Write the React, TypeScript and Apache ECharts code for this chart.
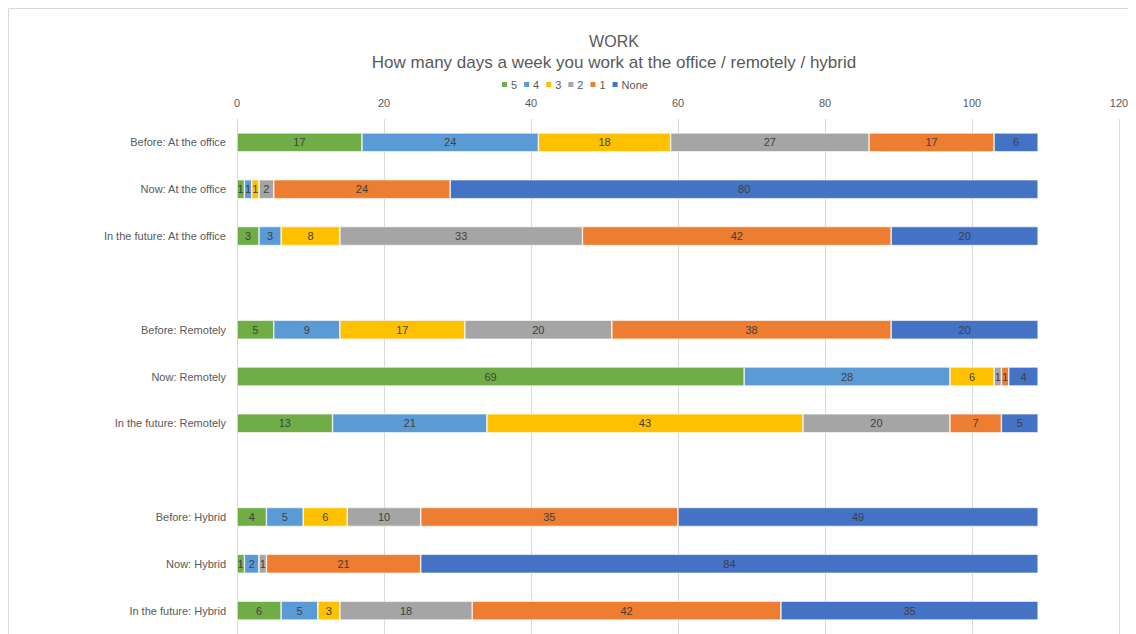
import React, { useEffect, useRef } from "react";
import * as echarts from "echarts";

const categories = [
  "Before: At the office",
  "Now: At the office",
  "In the future: At the office",
  "",
  "Before: Remotely",
  "Now: Remotely",
  "In the future: Remotely",
  " ",
  "Before: Hybrid",
  "Now: Hybrid",
  "In the future: Hybrid",
];

const seriesNames = ["5", "4", "3", "2", "1", "None"];
const seriesColors = ["#70AD47", "#5B9BD5", "#FFC000", "#A5A5A5", "#ED7D31", "#4472C4"];

const days5 = [17, 1, 3, null, 5, 69, 13, null, 4, 1, 6];
const days4 = [24, 1, 3, null, 9, 28, 21, null, 5, 2, 5];
const days3 = [18, 1, 8, null, 17, 6, 43, null, 6, 0, 3];
const days2 = [27, 2, 33, null, 20, 1, 20, null, 10, 1, 18];
const days1 = [17, 24, 42, null, 38, 1, 7, null, 35, 21, 42];
const daysNone = [6, 80, 20, null, 20, 4, 5, null, 49, 84, 35];

const seriesValues = [days5, days4, days3, days2, days1, daysNone];

const xTicks = { min: 0, max: 120, interval: 20 };

const FONT = "'Liberation Sans', 'DejaVu Sans', sans-serif";

export default function App() {
  const ref = useRef<HTMLDivElement>(null);

  useEffect(() => {
    if (!ref.current) return;
    const chart = echarts.init(ref.current, undefined, { renderer: "svg" });
    chart.setOption({
      animation: false,
      backgroundColor: "#ffffff",
      textStyle: { fontFamily: FONT },
      title: [
        {
          text: "WORK",
          left: 601,
          textAlign: "center",
          top: 20,
          textStyle: { fontSize: 16, fontWeight: "normal", color: "#595959", fontFamily: FONT },
        },
        {
          text: "How many days a week you work at the office / remotely / hybrid",
          left: 601,
          textAlign: "center",
          top: 41,
          textStyle: { fontSize: 17, fontWeight: "normal", color: "#595959", fontFamily: FONT },
        },
      ],
      legend: {
        data: seriesNames,
        top: 71,
        left: 492,
        padding: 0,
        itemWidth: 7,
        itemHeight: 7,
        itemGap: 5,
        icon: "rect",
        textStyle: { fontSize: 11, color: "#595959", fontFamily: FONT, padding: [0, 0, 0, -2] },
      },
      graphic: [
        {
          type: "rect",
          shape: { x: 0.5, y: 0.5, width: 1200, height: 700 },
          style: { fill: "none", stroke: "#d9d9d9", lineWidth: 1 },
          silent: true,
        },
      ],
      grid: { left: 229, right: 17, top: 111, height: 518, containLabel: false },
      xAxis: {
        type: "value",
        position: "top",
        min: xTicks.min,
        max: xTicks.max,
        interval: xTicks.interval,
        axisLine: { show: false },
        axisTick: { show: false },
        axisLabel: { fontSize: 11, color: "#595959", margin: 11, fontFamily: FONT },
        splitLine: { lineStyle: { color: "#d9d9d9", width: 1 } },
      },
      yAxis: {
        type: "category",
        inverse: true,
        data: categories,
        axisLine: { show: false },
        axisTick: { show: false },
        axisLabel: { fontSize: 11, color: "#595959", margin: 11, fontFamily: FONT },
      },
      series: seriesNames.map((name, i) => ({
        name,
        type: "bar",
        stack: "total",
        barWidth: 19,
        data: seriesValues[i],
        itemStyle: { color: seriesColors[i], borderColor: "#ffffff", borderWidth: 0.6 },
        label: {
          show: true,
          position: "inside",
          fontSize: 11,
          color: "#404040",
          fontFamily: FONT,
          formatter: (p: any) => (p.value ? String(p.value) : ""),
        },
      })),
    });
    return () => chart.dispose();
  }, []);

  return <div ref={ref} style={{ width: 1128, height: 626 }} />;
}
